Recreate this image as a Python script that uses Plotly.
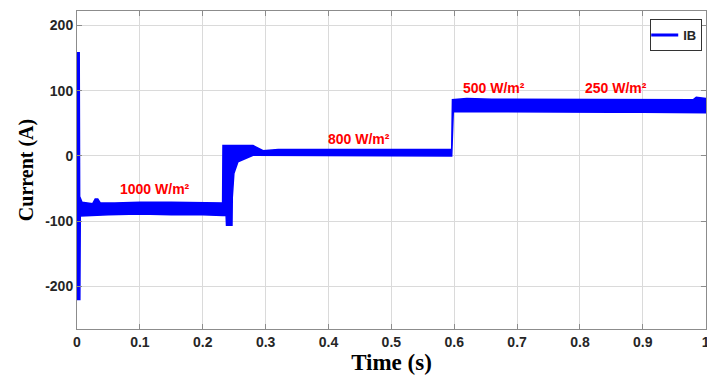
import plotly.graph_objects as go

# Battery current IB: upper and lower envelope of the switching band (A) vs time (s)
upper_t = [0.000, 0.0035, 0.0042, 0.008, 0.025, 0.029, 0.033, 0.037, 0.06, 0.10, 0.15, 0.20, 0.2316,
           0.2322, 0.265, 0.280, 0.296, 0.32, 0.40, 0.45, 0.50, 0.55, 0.596,
           0.5972, 0.62, 0.66, 0.70, 0.75, 0.80, 0.85, 0.90, 0.95, 0.98, 0.985, 1.000]
upper_i = [158, 158, -62, -71, -73, -66, -66, -72, -72, -71, -71, -72, -72,
           16, 16, 16, 8, 10, 10, 10, 9, 10, 10,
           86, 88, 87, 87, 86, 86, 87, 86, 86, 86, 90, 88]

lower_t = [0.000, 0.0045, 0.0052, 0.012, 0.05, 0.10, 0.15, 0.20, 0.2316,
           0.2372, 0.2378, 0.2465, 0.2470, 0.2495, 0.256, 0.280, 0.30, 0.40, 0.50, 0.596,
           0.5985, 0.65, 0.70, 0.75, 0.80, 0.85, 0.90, 0.95, 1.000]
lower_i = [-220, -220, -92, -91, -90, -89, -90, -90, -91,
           -91, -106, -106, -63, -27, -9, 1, 1, 0, 0, 0,
           68, 68, 67, 68, 67, 67, 67, 67, 66]

x_ticks = [0, 0.1, 0.2, 0.3, 0.4, 0.5, 0.6, 0.7, 0.8, 0.9, 1]
x_tick_text = ["0", "0.1", "0.2", "0.3", "0.4", "0.5", "0.6", "0.7", "0.8", "0.9", "1"]
y_ticks = [-200, -100, 0, 100, 200]
y_tick_text = ["-200", "-100", "0", "100", "200"]

# Irradiance level labels: (time, current, text)
irr_t = [0.124, 0.448, 0.664, 0.858]
irr_i = [-50, 26, 104, 104]
irr_text = ["1000 W/m²", "800 W/m²", "500 W/m²", "250 W/m²"]

BLUE = "#0000ff"
SANS = "Liberation Sans, Arial"

fig = go.Figure()

band_x = upper_t + lower_t[::-1]
band_y = upper_i + lower_i[::-1]
fig.add_trace(go.Scatter(
    x=band_x, y=band_y, mode="lines", fill="toself",
    fillcolor=BLUE, line=dict(color=BLUE, width=1.5),
    showlegend=False, hoverinfo="skip",
))
# legend entry for the signal
fig.add_trace(go.Scatter(
    x=[None], y=[None], mode="lines", name="IB",
    line=dict(color=BLUE, width=3),
))

for t, i, s in zip(irr_t, irr_i, irr_text):
    fig.add_annotation(x=t, y=i, text=s, showarrow=False,
                       font=dict(family=SANS, size=14, color="#ff0000", weight="bold"),
                       xanchor="center", yanchor="middle")

axis_common = dict(
    showgrid=True, gridcolor="#dadada", gridwidth=1,
    showline=True, linecolor="#8c8c8c", linewidth=1, mirror="ticks",
    ticks="inside", ticklen=5, tickcolor="#8c8c8c",
    zeroline=False, ticklabeloverflow="allow", automargin=False,
    tickfont=dict(family=SANS, size=14, color="#262626", weight="bold"),
)

fig.update_layout(
    width=707, height=383,
    margin=dict(l=77, r=1, t=11, b=54),
    paper_bgcolor="white", plot_bgcolor="white",
    xaxis=dict(range=[0, 1.0005], tickvals=x_ticks, ticktext=x_tick_text,
               title=dict(text="Time (s)", standoff=4,
                          font=dict(family="Liberation Serif, Times New Roman", size=23,
                                    color="black", weight="bold")),
               **axis_common),
    yaxis=dict(range=[-265, 222], tickvals=y_ticks, ticktext=y_tick_text,
               title=dict(text="Current (A)", standoff=6,
                          font=dict(family="Liberation Serif, Times New Roman", size=20,
                                    color="black", weight="bold")),
               **axis_common),
    legend=dict(x=0.994, y=0.975, xanchor="right", yanchor="top",
                bgcolor="white", bordercolor="#333333", borderwidth=1,
                font=dict(family=SANS, size=13, color="#262626", weight="bold"),
                itemwidth=30, tracegroupgap=0,
                indentation=-8),
    showlegend=True,
)

fig.write_html("out.html")
